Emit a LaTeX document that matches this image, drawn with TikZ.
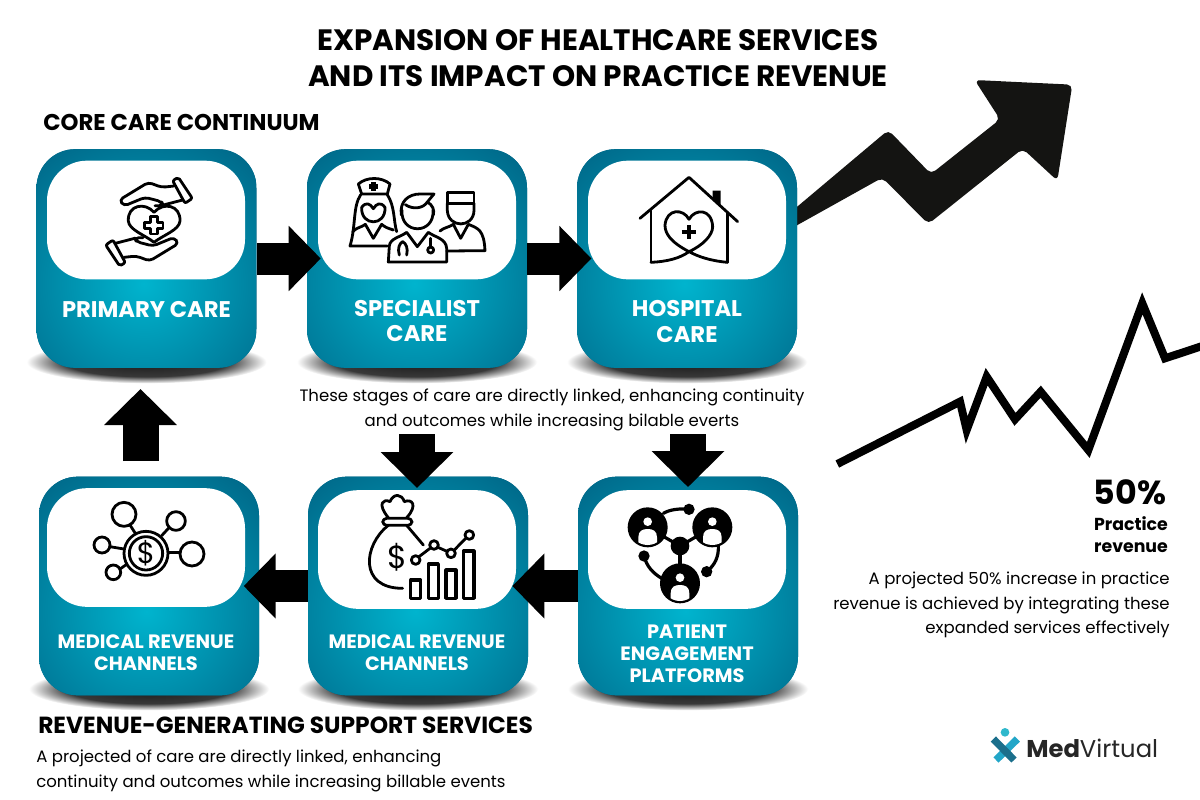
\documentclass[tikz,border=0pt]{standalone}
\usepackage{fontspec}
\setmainfont{Poppins}
\usetikzlibrary{arrows.meta,calc}
\definecolor{tealA}{HTML}{00B4CE}
\definecolor{tealB}{HTML}{006485}
\definecolor{arrowink}{HTML}{141412}
\definecolor{logodark}{HTML}{1B6F8C}
\definecolor{logolight}{HTML}{22A6C8}
\definecolor{logodot}{HTML}{2FB8CC}
\pgfdeclareradialshading{shadowsh}{\pgfpoint{0bp}{0bp}}{color(0bp)=(black!90); color(17bp)=(black!78); color(25bp)=(white); color(50bp)=(white)}
\tikzset{
  tealbox/.style={rectangle,rounded corners=29pt,minimum width=165pt,minimum height=164pt,inner sep=0pt,fill=tealB,
    path picture={\shade[inner color=tealA,outer color=tealB] ($(path picture bounding box.center)+(-2pt,19pt*-1)$) circle (131pt);}},
  whitebox/.style={rectangle,rounded corners=30pt,minimum width=148.5pt,minimum height=89pt,inner sep=0pt,fill=white},
  boxlabel/.style={text=white,font=\fontsize{17pt}{19.2pt}\selectfont\bfseries,align=center,inner sep=0pt},
  smalllabel/.style={text=white,font=\fontsize{14.5pt}{16.5pt}\selectfont\bfseries,align=center,inner sep=0pt},
  heading/.style={font=\fontsize{17.1pt}{20pt}\selectfont\bfseries,inner sep=0pt,anchor=west},
  bodytext/.style={font=\fontsize{12.4pt}{18.4pt}\selectfont,inner sep=0pt},
  hblock/.style={line width=24pt,draw=black,-{Triangle[length=24pt,width=47.5pt]}},
  vblock/.style={line width=27pt,draw=black,-{Triangle[length=27pt,width=53pt]}},
  icon/.style={draw=black,line width=2.1pt,line join=round,line cap=round},
  shadowblob/.style={shading=shadowsh},
}
\begin{document}
\begin{tikzpicture}[x=.75pt,y=-.75pt]
\useasboundingbox (0,0) rectangle (1200,800);
\fill[white] (0,0) rectangle (1200,800);

% shadows
\foreach \cx/\by in {146.5/368,417/368,687/368,149/695,418/695,688/695}{
  \shade[shadowblob] (\cx,\by-6) ellipse [x radius=90pt,y radius=16pt];
}

% big trend arrow
\begin{scope}[shift={(570,70)},x=.25pt,y=-.25pt]
\fill[arrowink,rounded corners=4pt] (652,435) -- (955,180) -- (1083,312) -- (1290,148) -- (1214,30) -- (1507,44) -- (1462,332) -- (1358,236) -- (1075,462) -- (937,323) -- (652,482) -- cycle;
\end{scope}

% boxes
\node[tealbox] (n1) at (146.5,258.5) {};
\node[tealbox] (n2) at (417,258.5) {};
\node[tealbox] (n3) at (687,258.5) {};
\node[tealbox] (n4) at (149,586) {};
\node[tealbox] (n5) at (418,586) {};
\node[tealbox] (n6) at (688,586) {};
\node[whitebox] (w1) at (146,220) {};
\node[whitebox] (w2) at (417,220) {};
\node[whitebox] (w3) at (687,220) {};
\node[whitebox] (w4) at (146,547.5) {};
\node[whitebox] (w5) at (417,549.5) {};
\node[whitebox] (w6) at (687,549.5) {};

% labels
\node[boxlabel] (l1) at (146.5,310) {PRIMARY CARE};
\node[boxlabel] (l2) at (417,321) {SPECIALIST\\CARE};
\node[boxlabel] (l3) at (687,321.5) {HOSPITAL\\CARE};
\node[smalllabel] (l4) at (146,653) {MEDICAL REVENUE\\CHANNELS};
\node[smalllabel] (l5) at (417,653) {MEDICAL REVENUE\\CHANNELS};
\node[smalllabel] (l6) at (687,654) {PATIENT\\ENGAGEMENT\\PLATFORMS};

% title and headings
\node[font=\fontsize{22.1pt}{27pt}\selectfont\bfseries,align=center,inner sep=0pt] (title) at (598,58) {EXPANSION OF HEALTHCARE SERVICES\\AND ITS IMPACT ON PRACTICE REVENUE};
\node[heading] (h1) at (43,122) {CORE CARE CONTINUUM};
\node[heading,font=\fontsize{17.5pt}{20pt}\selectfont\bfseries] (h2) at (38,725) {REVENUE-GENERATING SUPPORT SERVICES};
\node[bodytext,align=center] (cap) at (552,410) {These stages of care are directly linked, enhancing continuity\\and outcomes while increasing bilable everts};
\node[bodytext,align=left,anchor=west] (cap2) at (36,771) {A projected of care are directly linked, enhancing\\continuity and outcomes while increasing billable events};
\node[font=\fontsize{25pt}{28pt}\selectfont\bfseries,inner sep=0pt] (pct) at (1130,492) {50\%};
\node[font=\fontsize{13pt}{16.4pt}\selectfont\bfseries,align=center,inner sep=0pt] (pr) at (1131,534.5) {Practice\\revenue};
\node[bodytext,align=right,anchor=east] (para) at (1170,605) {A projected 50\% increase in practice\\revenue is achieved by integrating these\\expanded services effectively};

% block arrows
\draw[hblock] (n1.east) -- ([xshift=10.5pt]n2.west);
\draw[hblock] (n2.east) -- ([xshift=11pt]n3.west);
\draw[hblock] (n6.west) -- ([xshift=-49pt]n6.west);
\draw[hblock] (n5.west) -- ([xshift=-48pt]n5.west);
\coordinate (upstart) at (140.5,461);
\coordinate (upend) at (140.5,389);
\draw[vblock] (upstart) -- (upend);
\coordinate (d1) at (417,434);
\coordinate (d2) at (688,434);
\draw[vblock] (d1) -- (417,488);
\draw[vblock] (d2) -- ([yshift=-8pt]n6.north);

% jagged line
\begin{scope}[shift={(820,280)},x=.25pt,y=-.25pt]
\clip (0,0) rectangle (1140,600);
\draw[line width=6pt,miter limit=10] (52,552) -- (420,365) -- (440,450) -- (500,290) -- (585,418) -- (662,335) -- (805,510) -- (967,70) -- (1035,235) -- (1150,197);
\end{scope}

% icon 1: hands and heart
\begin{scope}[shift={(30,140)},x=.25pt,y=-.25pt]
\foreach \rr in {0,180}{
\begin{scope}[rotate around={\rr:(357,245)}]
\draw[icon,rounded corners=1.5pt] (428,122) -- (445,112) -- (487,175) -- (465,190) -- cycle;
\draw[icon,rounded corners=3pt] (432,138) -- (395,142) -- (355,127) -- (268,180) -- (282,198) -- (345,172) -- (395,185) -- (400,197) -- (375,197);
\draw[icon] (400,195) -- (458,180);
\end{scope}
}
\draw[icon] (372,217) .. controls (345,185) and (292,195) .. (295,243) .. controls (297,270) and (345,285) .. (372,307) .. controls (400,285) and (448,270) .. (450,243) .. controls (452,195) and (400,185) .. (372,217) -- cycle;
\draw[icon] (362,230) -- (382,230) -- (382,247) -- (399,247) -- (399,265) -- (382,265) -- (382,282) -- (362,282) -- (362,265) -- (344,265) -- (344,247) -- (362,247) -- cycle;
\end{scope}

% icon 2: three carers
\begin{scope}[shift={(340,170)},x=.25pt,y=-.25pt]
\draw[icon] (55,42) .. controls (80,20) and (125,20) .. (150,42) -- (142,72) -- (65,72) -- cycle;
\fill (93,36) rectangle (107,64);
\fill (86,43) rectangle (114,57);
\draw[icon] (62,74) .. controls (38,110) and (48,170) .. (30,228) -- (142,228);
\draw[icon] (142,74) .. controls (165,110) and (160,150) .. (170,185);
\draw[icon] (65,112) .. controls (78,95) and (90,100) .. (100,116) .. controls (110,100) and (122,95) .. (135,112);
\draw[icon] (65,112) .. controls (62,170) and (138,170) .. (135,112);
\draw[icon] (38,185) .. controls (50,172) and (65,172) .. (76,163) -- (100,205) -- (125,163) .. controls (135,172) and (145,175) .. (160,180);
\draw[icon] (184,135) .. controls (178,95) and (205,72) .. (240,72) -- (282,72) -- (262,96) .. controls (278,105) and (284,120) .. (280,135);
\draw[icon] (186,120) .. controls (180,195) and (285,195) .. (279,120);
\draw[icon] (196,104) .. controls (220,120) and (250,115) .. (262,96);
\draw[icon] (145,276) -- (148,228) .. controls (150,205) and (180,202) .. (200,187) -- (232,230) -- (265,187) .. controls (285,202) and (318,205) .. (320,235) -- (320,276) -- cycle;
\draw[icon] (178,255) .. controls (172,235) and (178,220) .. (188,215);
\draw[icon] (200,255) .. controls (205,235) and (198,220) .. (188,215);
\draw[icon] (272,205) -- (272,232);
\draw[icon] (272,240) circle [radius=9];
\draw[icon] (322,68) -- (402,68) -- (402,100) -- (322,100) -- cycle;
\draw[icon] (322,100) -- (322,122) .. controls (325,175) and (400,175) .. (402,122) -- (402,100);
\draw[icon] (300,183) .. controls (312,172) and (328,172) .. (340,163) -- (362,205) -- (385,163) .. controls (415,175) and (432,180) .. (435,242) -- (320,243);
\end{scope}

% icon 3: house with heart
\begin{scope}[shift={(570,70)},x=.25pt,y=-.25pt]
\draw[icon] (210,445) -- (357,322) -- (503,455);
\draw[icon] (243,422) -- (243,577);
\draw[icon] (472,428) -- (472,577);
\fill (428,362) -- (452,362) -- (452,405) -- (428,385) -- cycle;
\draw[icon] (472,577) .. controls (420,572) and (385,560) .. (357,545) .. controls (300,515) and (285,490) .. (285,465) .. controls (290,415) and (340,415) .. (357,448) .. controls (375,415) and (425,415) .. (428,470) .. controls (428,495) and (400,525) .. (357,545) .. controls (330,565) and (290,575) .. (243,577);
\draw[icon,line cap=butt,line width=2.8pt] (335,487) -- (377,487);
\draw[icon,line cap=butt,line width=2.8pt] (356,466) -- (356,508);
\end{scope}

% icon 4: network around a coin
\begin{scope}[shift={(30,470)},x=.25pt,y=-.25pt]
\draw[icon] (348,250) circle [radius=66];
\draw[icon] (348,250) circle [radius=50];
\foreach \cx/\cy/\rd in {282/133/36,438/153/28,216/225/24,486/252/36,250/307/22}{
  \draw[icon] (\cx,\cy) circle [radius=\rd];
}
\draw[icon] (300,165) -- (316,190);
\draw[icon] (418,172) -- (395,197);
\draw[icon] (240,230) -- (282,237);
\draw[icon] (450,248) -- (415,248);
\draw[icon] (270,297) -- (290,283);
\node[inner sep=0pt,font=\fontsize{22pt}{22pt}\selectfont] (dollarA) at (348,250) {\$};

% icon 5: money bag and chart
\draw[icon,rounded corners=3pt] (1058,145) rectangle (1146,166);
\draw[icon] (1075,143) .. controls (1040,100) and (1060,85) .. (1080,95) .. controls (1090,70) and (1115,70) .. (1123,95) .. controls (1145,85) and (1165,105) .. (1130,143);
\draw[icon] (1075,166) .. controls (1000,225) and (985,355) .. (1118,355);
\draw[icon] (1130,166) -- (1180,225);
\node[inner sep=0pt,font=\fontsize{24pt}{24pt}\selectfont] (dollarB) at (1103,262) {\$};
\foreach \xa/\ya/\xb/\yb in {1142/330/1172/385,1195/282/1225/385,1248/300/1278/385,1300/243/1332/385}{
  \draw[icon,line width=2.3pt] (\xa,\ya) rectangle (\xb,\yb);
}
\draw[icon] (1167,260) -- (1200,235);
\draw[icon] (1224,232) -- (1251,244);
\draw[icon] (1273,240) -- (1307,205);
\foreach \cx/\cy in {1157/270,1212/225,1263/250,1318/195}{
  \draw[icon] (\cx,\cy) circle [radius=13];
}
\end{scope}

% icon 6: people network
\begin{scope}[shift={(570,470)},x=.25pt,y=-.25pt]
\draw[icon,line width=2.4pt] (280,130) .. controls (300,118) and (330,115) .. (357,118);
\draw[icon,line width=2.4pt] (222,258) .. controls (230,290) and (250,310) .. (275,325);
\draw[icon,line width=2.4pt] (445,225) .. controls (447,260) and (435,285) .. (410,305);
\draw[icon,line width=2.4pt] (233,172) -- (330,228) -- (427,172);
\draw[icon,line width=2.4pt] (330,228) -- (330,340);
\fill (330,228) circle [radius=28];
\foreach \cx/\cy in {357/118,222/258,410/305}{ \fill (\cx,\cy) circle [radius=17]; }
\foreach \cx/\cy in {233/172,427/172,330/340}{
  \fill (\cx,\cy) circle [radius=60];
  \fill[white] (\cx,\cy-17) circle [radius=13];
  \begin{scope}
  \clip (\cx,\cy) circle [radius=53];
  \fill[white] (\cx-28,\cy+60) -- (\cx-28,\cy+30) .. controls (\cx-28,\cy+10) and (\cx-15,\cy+5) .. (\cx,\cy+5) .. controls (\cx+15,\cy+5) and (\cx+28,\cy+10) .. (\cx+28,\cy+30) -- (\cx+28,\cy+60) -- cycle;
  \end{scope}
}
\end{scope}

% logo
\begin{scope}[shift={(970,715)},x=.25pt,y=-.25pt]
\draw[line width=5.5pt,draw=logolight] (142,72) -- (78,135);
\draw[line width=5.5pt,draw=logodark] (70,72) -- (132,135);
\fill[logodot] (105,52) circle [radius=13];
\node[inner sep=0pt,anchor=west,font=\fontsize{18.2pt}{20pt}\selectfont,text=black!85] (logo) at (168,100) {\textbf{Med}Virtual};
\end{scope}
\end{tikzpicture}
\end{document}
